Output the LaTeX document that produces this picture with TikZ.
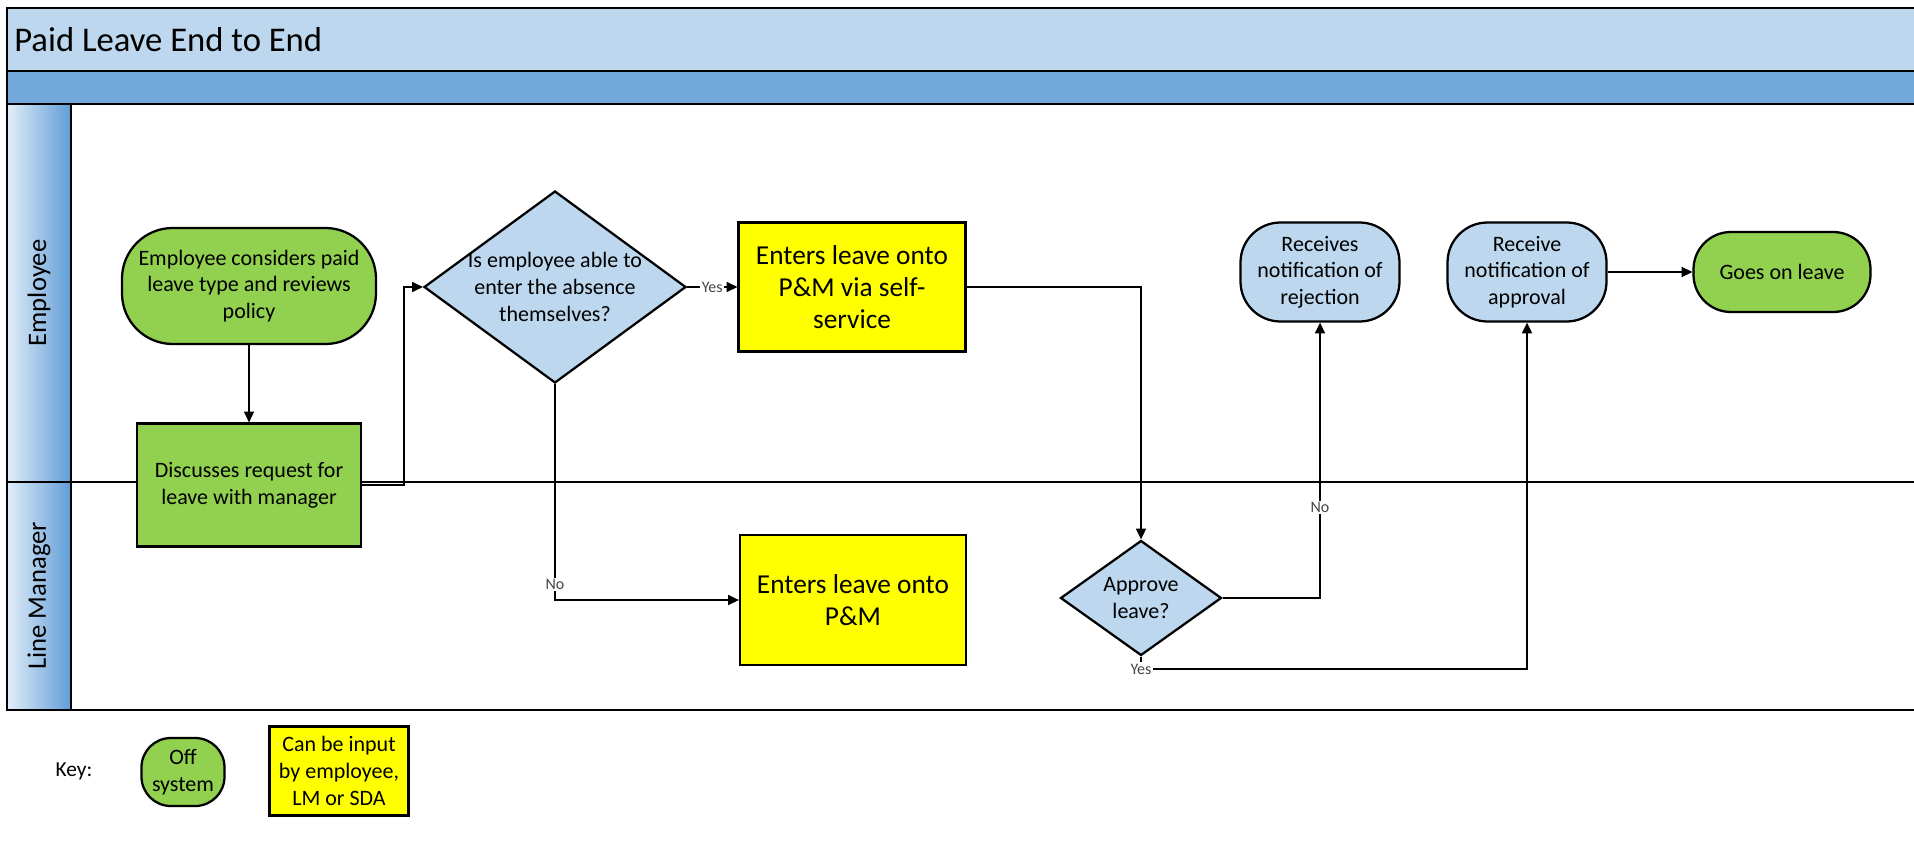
\documentclass[tikz,border=0pt]{standalone}
\usepackage{fontspec}
\setmainfont{Carlito}
\usetikzlibrary{shapes.geometric,arrows.meta}

\definecolor{titleblue}{RGB}{189,215,238}
\definecolor{bandblue}{RGB}{114,168,218}
\definecolor{laneleft}{RGB}{226,238,249}
\definecolor{laneright}{RGB}{96,156,214}
\definecolor{stepgreen}{RGB}{146,208,80}
\definecolor{stepyellow}{RGB}{255,255,0}
\definecolor{stepblue}{RGB}{189,215,238}
\definecolor{labelgrey}{RGB}{70,70,70}

\tikzset{
  lanes/.style={draw=black, line width=2pt},
  flowbox/.style={draw=black, line width=1.7pt, align=center, inner sep=0pt,
    font=\fontsize{16.5}{20}\selectfont},
  offsys/.style={fill=stepgreen},
  inputbox/.style={fill=stepyellow},
  sysstep/.style={fill=stepblue},
  bigtext/.style={font=\fontsize{20.5}{24}\selectfont},
  flow/.style={draw=black, line width=1.3pt, -{Triangle[length=8pt,width=7.5pt]}},
  choice/.style={fill=white, inner sep=1pt, text=labelgrey, font=\fontsize{12}{14}\selectfont},
}

\begin{document}
\begin{tikzpicture}[x=0.75pt,y=0.75pt,yscale=-1,xscale=1]
\useasboundingbox (0,0) rectangle (1914,842);

%Shape: Title band
\fill [titleblue] (7,8) rectangle (1914,71) ;
%Shape: Header band
\fill [bandblue] (7,71) rectangle (1914,104) ;
%Shape: Lane label column
\shade [left color=laneleft, right color=laneright] (7,104) rectangle (71,710) ;
%Straight Lines: pool frame
\draw [lanes] (1914,8) -- (7,8) -- (7,710) -- (1914,710) ;
\draw [lanes] (7,71) -- (1914,71) ;
\draw [lanes] (7,104) -- (1914,104) ;
\draw [lanes] (71,104) -- (71,710) ;
\draw [lanes] (7,482) -- (1914,482) ;

% Text Node
\node [anchor=west, inner sep=0pt, font=\fontsize{26}{30}\selectfont] (title) at (14,40) {Paid Leave End to End};
% Text Node
\node [rotate=90, font=\fontsize{20}{24}\selectfont] (emplane) at (39,293) {Employee};
% Text Node
\node [rotate=90, font=\fontsize{20}{24}\selectfont] (lmlane) at (39,596) {Line Manager};

%Shape: Rounded Rect
\node [flowbox, offsys, rounded corners=38pt, minimum width=190.5pt, minimum height=87pt] (consider) at (249,286) {Employee considers paid\\leave type and reviews\\policy};
%Shape: Rectangle
\node [flowbox, offsys, minimum width=168pt, minimum height=92.25pt] (discuss) at (249,485) {Discusses request for\\leave with manager};
%Shape: Diamond
\node [flowbox, sysstep, diamond, aspect=1.36, inner xsep=-5pt, minimum width=196.5pt, minimum height=144pt] (able) at (555,287) {Is employee able to\\enter the absence\\themselves?};
%Shape: Rectangle
\node [flowbox, inputbox, bigtext, minimum width=170.25pt, minimum height=96.75pt] (selfserv) at (852,287) {Enters leave onto\\P\&M via self-\\service};
%Shape: Rectangle
\node [flowbox, inputbox, bigtext, minimum width=169.5pt, minimum height=97.5pt] (lmenter) at (853,600) {Enters leave onto\\P\&M};
%Shape: Diamond
\node [flowbox, sysstep, diamond, aspect=1.4, minimum width=120.75pt, minimum height=86.25pt] (approve) at (1141,598) {Approve\\leave?};
%Shape: Rounded Rect
\node [flowbox, sysstep, rounded corners=30pt, minimum width=119.25pt, minimum height=74.25pt] (reject) at (1320,272) {Receives\\notification of\\rejection};
%Shape: Rounded Rect
\node [flowbox, sysstep, rounded corners=30pt, minimum width=119.25pt, minimum height=74.25pt] (approval) at (1527,272) {Receive\\notification of\\approval};
%Shape: Rounded Rect
\node [flowbox, offsys, rounded corners=28pt, minimum width=132.75pt, minimum height=60pt] (goes) at (1782,272) {Goes on leave};

\coordinate (yescorner) at (1141,669) ;

%Straight Lines
\draw [flow] (consider) -- (discuss) ;
\draw [flow] (discuss.east) -- ++(42,0) |- (able.west) ;
\draw [flow] (able.east) -- node [choice] {Yes} (selfserv.west) ;
\draw [flow] (able.south) |- node [choice, pos=0.465] {No} (lmenter.west) ;
\draw [flow] (selfserv.east) -| (approve.north) ;
\draw [flow] (approve.east) -| node [choice, pos=0.665] {No} (reject.south) ;
\draw [flow] (approve.south) -- (yescorner) node [choice] {Yes} -| (approval.south) ;
\draw [flow] (approval) -- (goes) ;

% Text Node
\node [font=\fontsize{16}{19}\selectfont] (keylbl) at (74,771) {Key:};
%Shape: Rounded Rect
\node [flowbox, offsys, rounded corners=22pt, minimum width=62.25pt, minimum height=51pt] (keyoff) at (183,772) {Off\\system};
%Shape: Rectangle
\node [flowbox, inputbox, minimum width=104.25pt, minimum height=66.75pt] (keyinput) at (339,771) {Can be input\\by employee,\\LM or SDA};

\end{tikzpicture}
\end{document}
